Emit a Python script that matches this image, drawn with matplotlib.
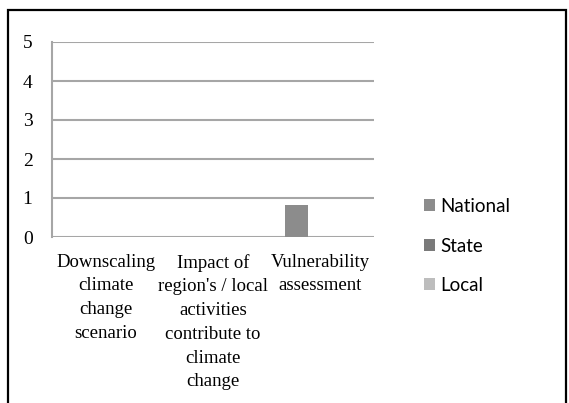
import matplotlib.pyplot as plt
import numpy as np
from matplotlib.patches import Rectangle

categories = [
    "Downscaling\nclimate\nchange\nscenario",
    "Impact of\nregion's / local\nactivities\ncontribute to\nclimate\nchange",
    "Vulnerability\nassessment",
]
series = ["National", "State", "Local"]
national = [0, 0, 0.82]
state = [0, 0, 0]
local = [0, 0, 0]
colors = ["#8c8c8c", "#7a7a7a", "#bdbdbd"]

W, H = 569, 403
fig = plt.figure(figsize=(W / 100, H / 100), dpi=100)

# outer frame
fig.patches.append(Rectangle((8 / W, -0.1), (566 - 8) / W, 1.1 - 10 / H,
                             transform=fig.transFigure, fill=False,
                             edgecolor="black", linewidth=1.6))

ax = fig.add_axes([52 / W, (H - 237) / H, 322 / W, 195 / H])

x = np.arange(len(categories))
width = 0.21
offsets = [-0.22, 0, 0.22]
for vals, name, col, off in zip([national, state, local], series, colors, offsets):
    ax.bar(x + off, vals, width, color=col, label=name, zorder=3)

ax.set_xlim(-0.5, 2.5)
ax.set_ylim(0, 5)
ax.set_yticks(range(6))
ax.yaxis.grid(True, color="#a6a6a6", linewidth=1.5)
ax.set_axisbelow(True)
for side in ["top", "right", "bottom"]:
    ax.spines[side].set_visible(False)
ax.spines["left"].set_color("#a6a6a6")
ax.spines["left"].set_linewidth(1.5)
ax.tick_params(axis="both", length=0)
ax.tick_params(axis="y", pad=14)
ax.tick_params(axis="x", pad=12)
ax.set_xticks(x)
ax.set_xticklabels(categories, family="Liberation Serif", fontsize=13.5,
                   linespacing=1.52, va="top")
for lab in ax.get_yticklabels():
    lab.set_family("Liberation Serif")
    lab.set_fontsize(14)

fig.legend(loc="center left", bbox_to_anchor=(407 / W, (H - 246) / H),
           frameon=False, prop={"family": "Lato", "size": 13.5},
           handlelength=0.6, handleheight=0.6, handletextpad=0.3,
           labelspacing=1.2)

fig.savefig("out.png", dpi=100)
